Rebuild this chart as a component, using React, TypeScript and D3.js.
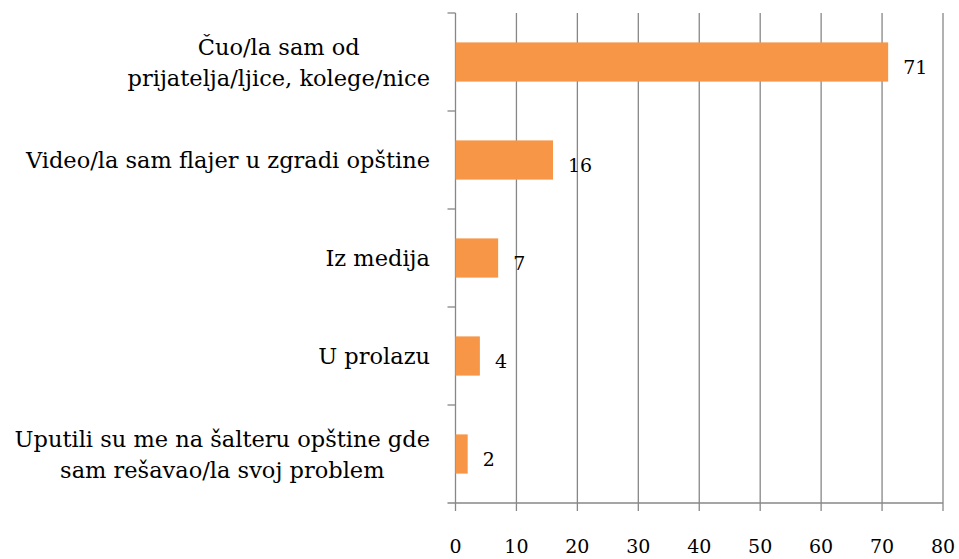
import { useEffect, useRef } from "react";
import * as d3 from "d3";

// chart data
const categories: string[][] = [
  ["Čuo/la sam od", "prijatelja/ljice, kolege/nice"],
  ["Video/la sam flajer u zgradi opštine"],
  ["Iz medija"],
  ["U prolazu"],
  ["Uputili su me na šalteru opštine gde", "sam rešavao/la svoj problem"],
];
const values: number[] = [71, 16, 7, 4, 2];
const xTicks: number[] = [0, 10, 20, 30, 40, 50, 60, 70, 80];

const FONT = "DejaVu Serif";

const App = () => {
  const ref = useRef<SVGSVGElement>(null);

  useEffect(() => {
    const width = 959;
    const height = 559;
    const margin = { top: 13, right: 16, bottom: 56, left: 455.5 };
    const innerH = height - margin.top - margin.bottom;

    const svg = d3.select(ref.current);
    svg.selectAll("*").remove();

    const g = svg
      .append("g")
      .attr("transform", "translate(" + margin.left + "," + margin.top + ")");

    const xScale = d3.scaleLinear().domain([0, 80]).range([0, 487.5]);
    const yScale = d3
      .scaleBand<number>()
      .domain(d3.range(values.length))
      .range([0, innerH])
      .paddingInner(0.6)
      .paddingOuter(0.3);

    const step = yScale.step();
    const gridColor = "#878787";

    // vertical gridlines
    g.append("g")
      .selectAll("line")
      .data(xTicks.slice(1))
      .join("line")
      .attr("x1", (d) => xScale(d))
      .attr("x2", (d) => xScale(d))
      .attr("y1", 0)
      .attr("y2", innerH + 8)
      .attr("stroke", gridColor)
      .attr("stroke-width", 1.3);

    // bottom axis line + left axis line
    g.append("line")
      .attr("x1", -8)
      .attr("x2", xScale(80))
      .attr("y1", innerH)
      .attr("y2", innerH)
      .attr("stroke", gridColor)
      .attr("stroke-width", 1.3);
    g.append("line")
      .attr("x1", 0)
      .attr("x2", 0)
      .attr("y1", 0)
      .attr("y2", innerH + 8)
      .attr("stroke", gridColor)
      .attr("stroke-width", 1.3);

    // left category ticks (band boundaries)
    g.append("g")
      .selectAll("line")
      .data(d3.range(values.length))
      .join("line")
      .attr("x1", -8)
      .attr("x2", 0)
      .attr("y1", (d) => d * step)
      .attr("y2", (d) => d * step)
      .attr("stroke", gridColor)
      .attr("stroke-width", 1.3);

    // bars
    g.append("g")
      .selectAll("rect")
      .data(values)
      .join("rect")
      .attr("x", 0)
      .attr("y", (_, i) => yScale(i) as number)
      .attr("width", (d) => xScale(d))
      .attr("height", yScale.bandwidth())
      .attr("fill", "#F79646");

    // value labels
    g.append("g")
      .selectAll("text")
      .data(values)
      .join("text")
      .attr("x", (d) => xScale(d) + 15)
      .attr("y", (_, i) => (yScale(i) as number) + yScale.bandwidth() / 2 + 12)
      .attr("font-family", FONT)
      .attr("font-size", "19px")
      .attr("fill", "#000")
      .text((d) => d);

    // x tick labels
    g.append("g")
      .selectAll("text")
      .data(xTicks)
      .join("text")
      .attr("x", (d) => xScale(d))
      .attr("y", innerH + 50)
      .attr("text-anchor", "middle")
      .attr("font-family", FONT)
      .attr("font-size", "19px")
      .attr("fill", "#000")
      .text((d) => d);

    // category labels, wrapped lines centred on the longest line
    const lineH = 31;
    const labelRight = 430 - margin.left;
    categories.forEach((lines, i) => {
      const cy = (yScale(i) as number) + yScale.bandwidth() / 2;
      const first = cy + 8 - ((lines.length - 1) * lineH) / 2;
      const t = g
        .append("text")
        .attr("font-family", FONT)
        .attr("font-size", "22.5px")
        .attr("fill", "#000")
        .attr("text-anchor", "middle");
      const spans = lines.map((l, k) =>
        t.append("tspan").attr("y", first + k * lineH).text(l)
      );
      const maxW = d3.max(spans, (s) => (s.node() as SVGTSpanElement).getComputedTextLength()) as number;
      spans.forEach((s) => s.attr("x", labelRight - maxW / 2));
    });
  }, []);

  return (
    <svg
      ref={ref}
      width={959}
      height={559}
      style={{ position: "absolute", left: 0, top: 0, background: "#fff" }}
    />
  );
};

export default App;
